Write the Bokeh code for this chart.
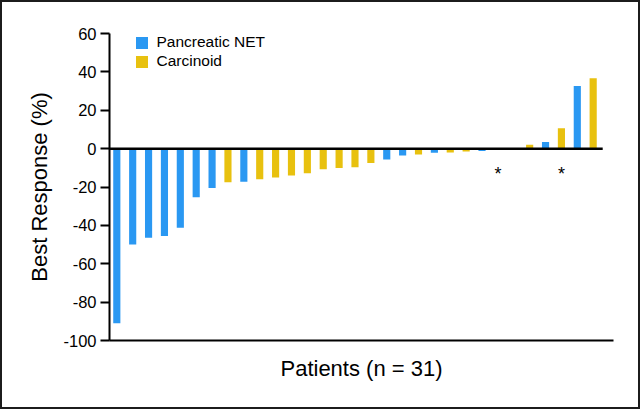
from bokeh.plotting import figure
from bokeh.models import ColumnDataSource, FixedTicker, Legend, LegendItem, PrintfTickFormatter
from bokeh.core.properties import value
from bokeh.embed import file_html
from bokeh.resources import INLINE

# ---- data ----
patients = list(range(31))
best_response = [-91, -50, -46.5, -45.5, -41.3, -25.3, -20.5, -17.5, -17.2, -16,
                 -15, -14, -12.8, -10.8, -10.1, -9.7, -7.5, -5.7, -3.6, -3.1,
                 -2.1, -2.0, -1.5, -1.3, 0, 0, 2.0, 3.5, 10.6, 32.7, 36.7]
tumor_type = ["P", "P", "P", "P", "P", "P", "P", "C", "P", "C",
              "C", "C", "C", "C", "C", "C", "C", "P", "P", "C",
              "P", "C", "C", "P", "P", "P", "C", "P", "C", "P", "C"]
type_names = {"P": "Pancreatic NET", "C": "Carcinoid"}
type_colors = {"P": "#2A98F2", "C": "#E8C10F"}
asterisk_patients = [24, 28]
asterisk_y = [-13, -13]
y_ticks = [60, 40, 20, 0, -20, -40, -60, -80, -100]

FONT = "Liberation Sans"
D = "#1c1c1c"
W = "white"

p = figure(width=624, height=393, output_backend="svg", toolbar_location=None,
           x_range=(-0.46, 31.28), y_range=(-100, 60),
           min_border_left=109, min_border_right=11, min_border_top=33,
           min_border_bottom=53)
p.styles = {"box-shadow": (f"inset 2px 2px 0 0 {D}, 2px 14px 0 0 {W}, 14px 14px 0 0 {W}, "
                           f"14px 2px 0 0 {W}, 0 16px 0 0 {D}, 16px 16px 0 0 {D}, 16px 0 0 0 {D}")}
p.outline_line_color = None
p.xgrid.visible = False
p.ygrid.visible = False
p.background_fill_color = "white"
p.border_fill_alpha = 0

items = []
for key in ["P", "C"]:
    xs = [i for i, t in zip(patients, tumor_type) if t == key]
    ys = [v for v, t in zip(best_response, tumor_type) if t == key]
    src = ColumnDataSource(dict(x=xs, top=ys))
    r = p.vbar(x="x", top="top", bottom=0, width=0.45, source=src,
               fill_color=type_colors[key], line_color=None)
    items.append(LegendItem(label=type_names[key], renderers=[r]))

# zero line
p.segment(x0=[p.x_range.start], y0=[0], x1=[len(patients) - 1 + 0.6], y1=[0],
          line_color="black", line_width=2.5)

# asterisks
p.text(x=asterisk_patients, y=asterisk_y, text=["*"] * len(asterisk_patients),
       text_font=value(FONT), text_font_size="18px", text_align="center",
       text_baseline="middle", text_color="black")

legend = Legend(items=items, location=(24.5, 270), padding=0, margin=0,
                spacing=1, glyph_width=15, glyph_height=15, label_height=15,
                label_standoff=8, label_text_font=FONT, label_text_color="black",
                label_text_font_size="15.5px", border_line_color=None,
                background_fill_alpha=0)
p.add_layout(legend, "center")

# y axis
p.yaxis.ticker = FixedTicker(ticks=y_ticks)
p.yaxis.formatter = PrintfTickFormatter(format="%d")
p.yaxis.minor_tick_line_color = None
p.yaxis.major_tick_in = 0
p.yaxis.major_tick_out = 9
p.yaxis.major_tick_line_width = 2
p.yaxis.axis_line_width = 2
p.yaxis.major_label_text_font = FONT
p.yaxis.major_label_text_font_size = "16.5px"
p.yaxis.major_label_text_color = "black"
p.yaxis.major_label_standoff = 4
p.yaxis.axis_label = "Best Response (%)"
p.yaxis.axis_label_text_font = FONT
p.yaxis.axis_label_text_font_size = "22px"
p.yaxis.axis_label_text_font_style = "normal"
p.yaxis.axis_label_text_color = "black"
p.yaxis.axis_label_standoff = 8

# x axis
p.xaxis.ticker = FixedTicker(ticks=[])
p.xaxis.minor_tick_line_color = None
p.xaxis.major_tick_line_color = None
p.xaxis.axis_line_width = 2
p.xaxis.axis_label = "Patients (n = 31)"
p.xaxis.axis_label_text_font = FONT
p.xaxis.axis_label_text_font_size = "22px"
p.xaxis.axis_label_text_font_style = "normal"
p.xaxis.axis_label_text_color = "black"
p.xaxis.axis_label_standoff = 15

open("out.html", "w").write(file_html(p, INLINE))
